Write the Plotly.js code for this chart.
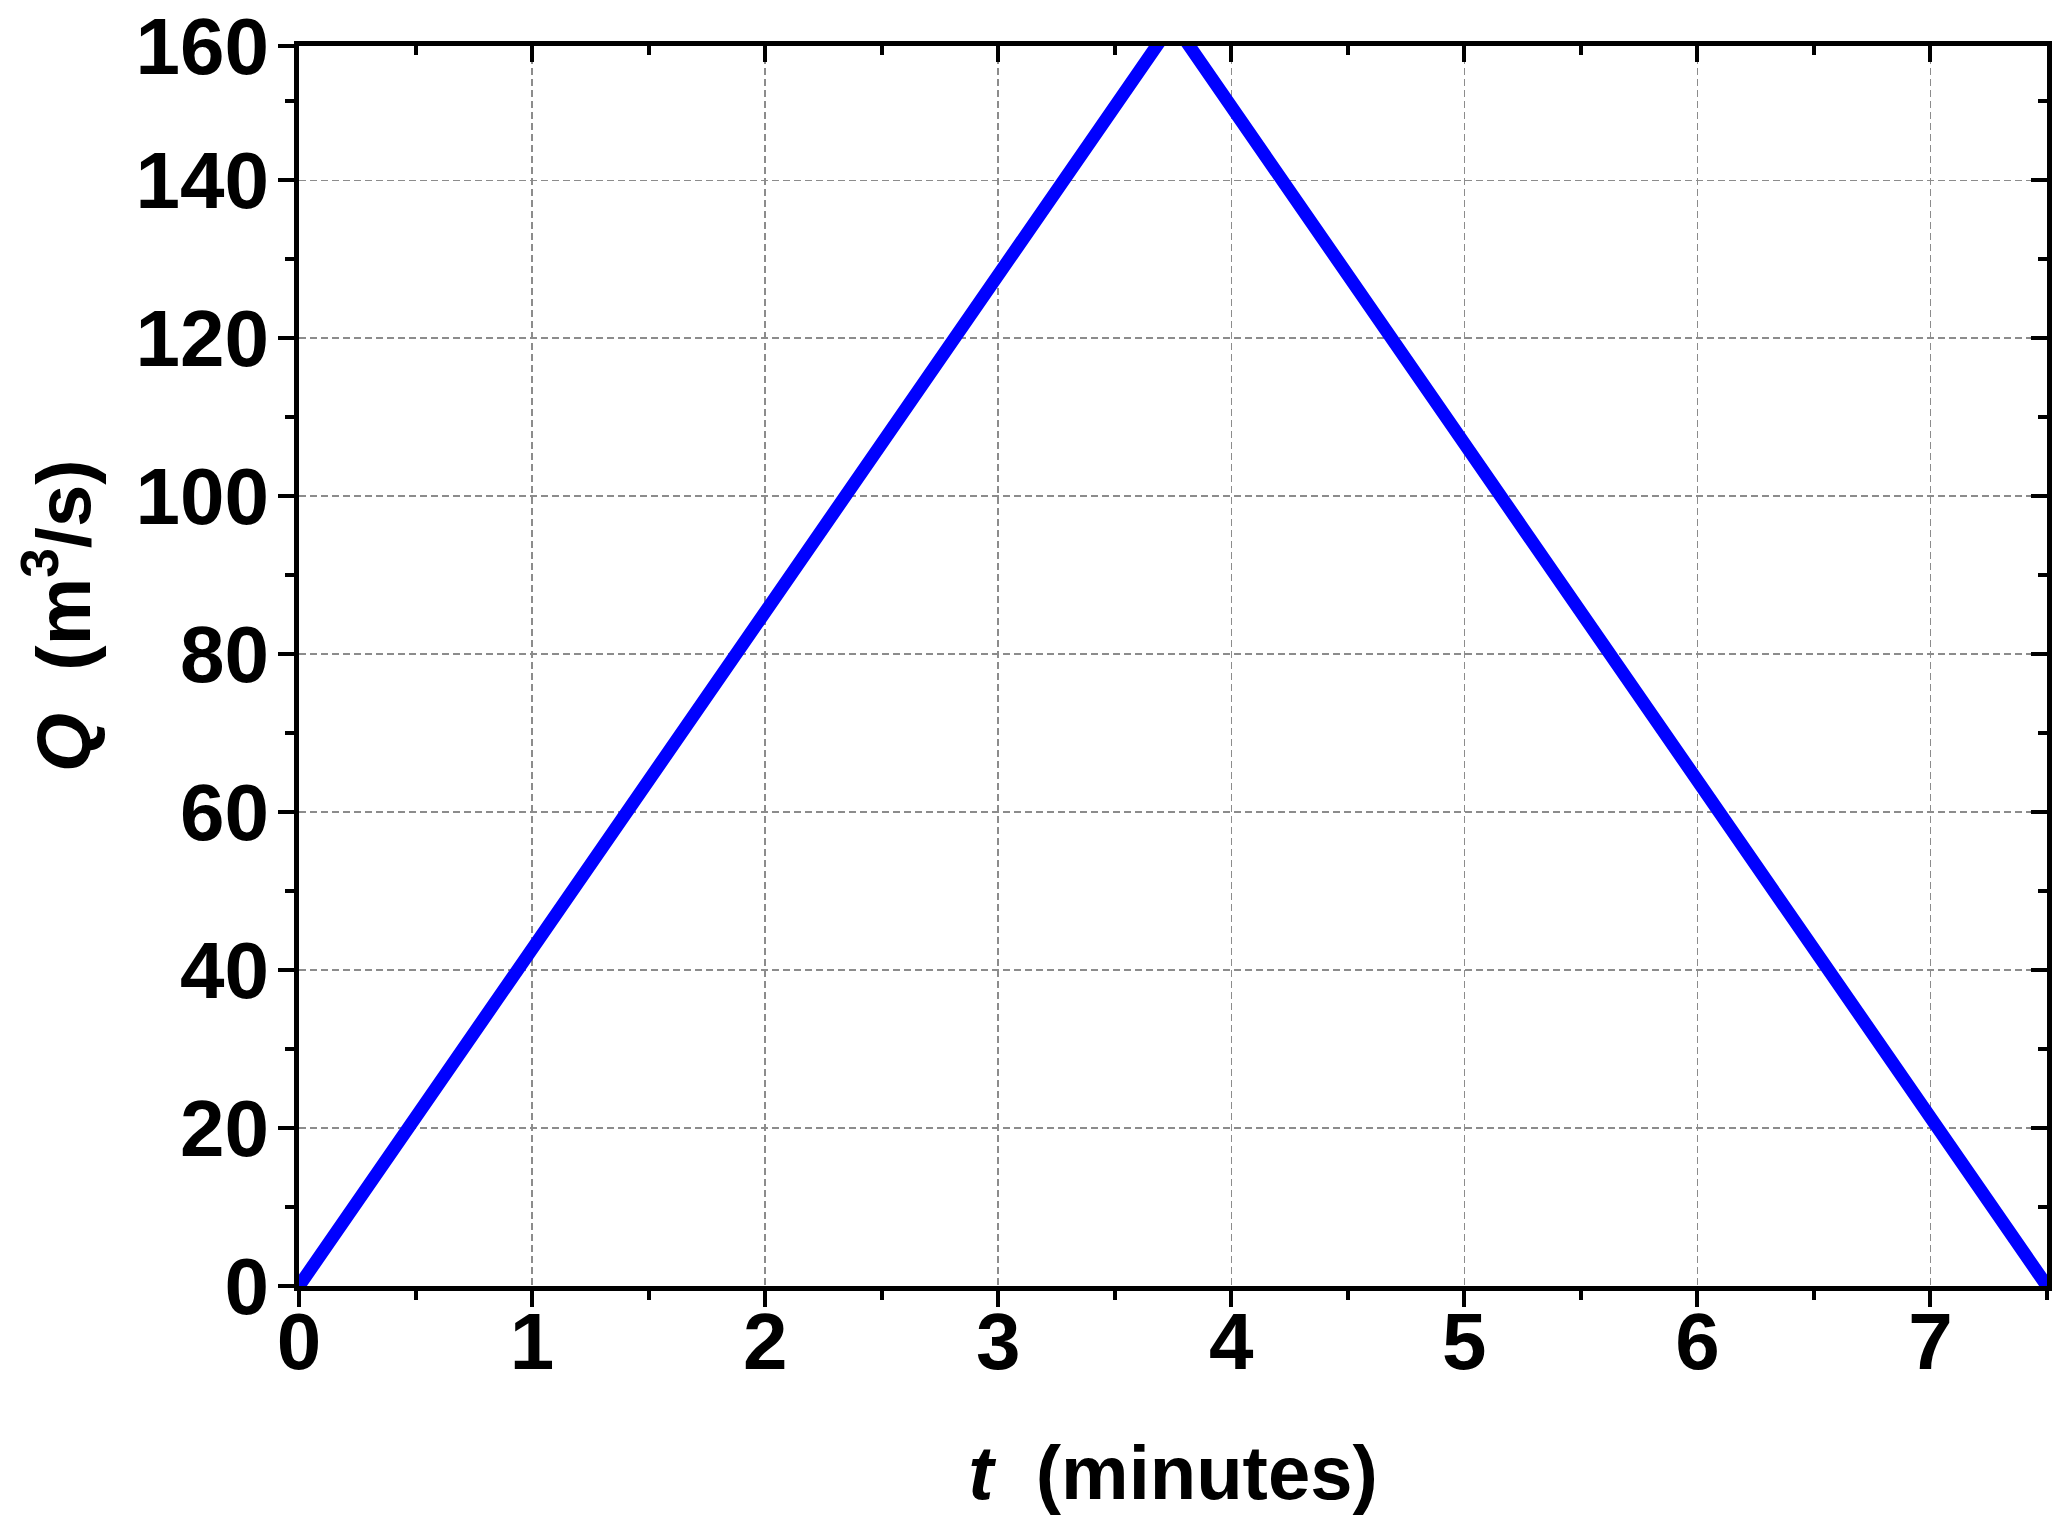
<!DOCTYPE html>
<html>
<head>
<meta charset="utf-8">
<script src="https://cdn.plot.ly/plotly-3.0.1.min.js"></script>
<style>html,body{margin:0;padding:0;background:#fff;}</style>
</head>
<body>
<div id="chart" style="width:2067px;height:1530px;"></div>
<script>
// Data: hydrograph Q(t)
const tMinutes = [0, 3.75, 7.5];
const qFlow = [0, 160, 0];

// Axis ticks
const xTickVals = [0, 1, 2, 3, 4, 5, 6, 7];
const xTickText = ['0', '1', '2', '3', '4', '5', '6', '7'];
const yTickVals = [0, 20, 40, 60, 80, 100, 120, 140, 157];
const yTickText = ['0', '20', '40', '60', '80', '100', '120', '140', '160'];

const FONT = 'Liberation Sans, Arial, sans-serif';
const tickFont = {family: FONT, size: 80, color: '#000', weight: 'bold'};

const traces = [
  {
    x: tMinutes, y: qFlow, type: 'scatter', mode: 'lines',
    line: {color: '#0000ff', width: 13},
    showlegend: false, hoverinfo: 'x+y'
  },
  {
    x: tMinutes, y: qFlow, type: 'scatter', mode: 'lines',
    xaxis: 'x2', yaxis: 'y2', opacity: 0,
    line: {color: '#0000ff', width: 0},
    showlegend: false, hoverinfo: 'skip'
  }
];

const common = {
  showline: true, linecolor: '#000', linewidth: 5,
  ticklen: 16, tickwidth: 4, tickcolor: '#000',
  zeroline: false, fixedrange: true
};

const layout = {
  width: 2067, height: 1530,
  margin: {l: 299, r: 20, t: 46, b: 244},
  paper_bgcolor: '#fff', plot_bgcolor: '#fff',
  showlegend: false,
  xaxis: Object.assign({}, common, {
    range: [0, 7.5],
    tickmode: 'array', tickvals: xTickVals, ticktext: xTickText,
    ticks: 'outside', tickfont: tickFont, ticklabelstandoff: -34,
    showgrid: true, gridcolor: '#8c8c8c', gridwidth: 1.5, griddash: '7px,4px',
    minor: {tickmode: 'linear', tick0: 0, dtick: 0.5, ticks: 'outside', ticklen: 9, tickwidth: 4, tickcolor: '#000', showgrid: false},
    title: {text: '<b><i>t</i>\u00a0\u00a0(minutes)</b>', font: {family: FONT, size: 76, color: '#000'}, standoff: 62}
  }),
  yaxis: Object.assign({}, common, {
    range: [0, 157],
    tickmode: 'array', tickvals: yTickVals, ticktext: yTickText,
    ticks: 'outside', tickfont: tickFont, ticklabelstandoff: -7,
    showgrid: true, gridcolor: '#8c8c8c', gridwidth: 1.5, griddash: '7px,4px',
    minor: {tickmode: 'linear', tick0: 0, dtick: 10, ticks: 'outside', ticklen: 9, tickwidth: 4, tickcolor: '#000', showgrid: false}
  }),
  xaxis2: Object.assign({}, common, {
    overlaying: 'x', anchor: 'y2', side: 'top',
    range: [0, 7.5],
    tickmode: 'array', tickvals: xTickVals,
    ticks: 'inside', showticklabels: false, showgrid: false,
    minor: {tickmode: 'linear', tick0: 0, dtick: 0.5, ticks: 'inside', ticklen: 9, tickwidth: 4, tickcolor: '#000', showgrid: false}
  }),
  yaxis2: Object.assign({}, common, {
    overlaying: 'y', anchor: 'x2', side: 'right',
    range: [0, 157],
    tickmode: 'array', tickvals: yTickVals,
    ticks: 'inside', showticklabels: false, showgrid: false,
    minor: {tickmode: 'linear', tick0: 0, dtick: 10, ticks: 'inside', ticklen: 9, tickwidth: 4, tickcolor: '#000', showgrid: false}
  }),
  annotations: [
    {
      text: '<b><i>Q</i>\u00a0\u00a0(m<sup>3</sup>/s)</b>',
      xref: 'paper', yref: 'paper',
      x: (58 - 299) / 1748, y: (1286 - 616) / 1240,
      xanchor: 'center', yanchor: 'middle',
      textangle: -90, showarrow: false,
      font: {family: FONT, size: 76, color: '#000'}
    }
  ]
};

Plotly.newPlot('chart', traces, layout, {displayModeBar: false, staticPlot: true});
</script>
</body>
</html>
